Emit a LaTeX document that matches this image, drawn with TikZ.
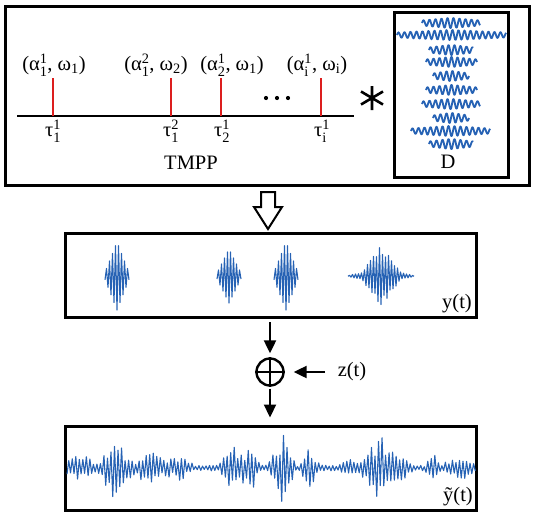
\documentclass[tikz,border=0pt]{standalone}
\usepackage{amsmath}
\usepackage{fontspec}
\setmainfont{Liberation Serif}
\usetikzlibrary{arrows.meta}
\definecolor{sigblue}{RGB}{38,98,180}
\definecolor{spkred}{RGB}{220,30,30}
\newcommand{\supsub}[2]{$^{\text{#1}}_{\text{#2}}$}
\newcommand{\subonly}[1]{$_{\text{#1}}$}
\begin{document}
\begin{tikzpicture}[x=1pt,y=-1pt,
  font=\fontsize{20.5}{24}\selectfont,
  box/.style={draw, line width=3pt, inner sep=0pt},
  sigline/.style={draw=sigblue, line width=1.1pt, line join=round},
  atomline/.style={draw=sigblue, line width=1.8pt, line join=round},
  spike/.style={draw=spkred, line width=2.2pt},
  arr/.style={line width=2.2pt, -{Triangle[length=13pt,width=12pt]}},
  lbl/.style={inner sep=0pt},
  declare function={tri(\a,\c,\w)=max(0,1-abs(\a-\c)/\w);
    sgn(\k)=1-2*mod(round(\k)+1000,2);
    E(\a)=3+12*tri(\a,80,22)+32*tri(\a,115,18)+14*tri(\a,150,25)+10*tri(\a,180,15)+24*tri(\a,232,13)+30*tri(\a,250,10)+34*tri(\a,282,14)+20*tri(\a,310,10)+8*tri(\a,350,15)+30*tri(\a,380,24)+12*tri(\a,405,8)+20*tri(\a,433,8)+12*tri(\a,460,20);}
]
\useasboundingbox (0,0) rectangle (536,517);
\pgfmathsetseed{7}

% top box
\node[box, minimum width=524pt, minimum height=179pt] (top) at (267,95.5) {};
\node[box, minimum width=114pt, minimum height=165pt] (dbox) at (451,94.5) {};

% timeline
\coordinate (tl0) at (17,116);
\coordinate (tl1) at (354,116);
\draw[line width=2.6pt] (tl0) -- (tl1);

\foreach \n/\xx in {1/53,2/171,3/221,4/321}{
  \coordinate (s\n) at (\xx,116);
  \coordinate (s\n t) at (\xx,78);
  \draw[spike] (s\n) -- (s\n t);
}

\node[lbl] (p1) at (54,65) {(α\supsub{1}{1}, ω\subonly{1})};
\node[lbl] (p2) at (156,65) {(α\supsub{2}{1}, ω\subonly{2})};
\node[lbl] (p3) at (232,65) {(α\supsub{1}{2}, ω\subonly{1})};
\node[lbl] (p4) at (317,65) {(α\supsub{1}{i}, ω\subonly{i})};

\node[lbl] (t1) at (53,131) {τ\supsub{1}{1}};
\node[lbl] (t2) at (171,131) {τ\supsub{2}{1}};
\node[lbl] (t3) at (222,131) {τ\supsub{1}{2}};
\node[lbl] (t4) at (322,131) {τ\supsub{1}{i}};

\foreach \xx in {266,277,288}{ \fill (\xx,98) circle (2.1pt); }

\node[lbl] (tmpp) at (191,163) {TMPP};
\node[lbl] (dlab) at (448,162) {D};

% asterisk
\coordinate (ast) at (372,98);
\draw[line width=2.6pt] (372,86) -- (372,110)
  (361,91.5) -- (383,104.5) (361,104.5) -- (383,91.5);

% dictionary atoms
\foreach \yy/\xa/\xb in {23/422/480, 35/397/506, 50/429/473, 62/426/477, 76/433/469, 90/426/477, 104/422/480, 118/433/469, 131/411/490, 144/429/473}{
  \draw[atomline] plot[domain=\xa:\xb, samples=140]
    (\x, {\yy - (2.6+2.6*tri(\x,(\xa+\xb)/2,(\xb-\xa)/2))*sin(60*(\x-\xa))});
}

% hollow arrow
\draw[line width=2pt, line join=miter] (261,192) -- (275,192) -- (275,207) -- (282,207)
  -- (268,229) -- (254,207) -- (261,207) -- cycle;

% middle box
\node[box, minimum width=411pt, minimum height=84pt] (mid) at (271,275) {};
\node[lbl, anchor=east] (ylab) at (472,304) {y(t)};

\draw[sigline] plot[domain=-8:8, samples=17] ({117+1.5*\x}, {276 + 34*(1-abs(\x)/9)*sgn(\x)});
\draw[sigline] plot[domain=-8:8, samples=17] ({229+1.5*\x}, {276 + 27*(1-abs(\x)/9)*sgn(\x)});
\draw[sigline] plot[domain=-8:8, samples=17] ({286+1.5*\x}, {276 + 34*(1-abs(\x)/9)*sgn(\x)});
\draw[sigline] plot[domain=-22:22, samples=45] ({381+1.5*\x}, {276 + max(9*(1-abs(\x)/23),31*(1-abs(\x)/15))*(0.7+0.3*rnd)*sgn(\x)});

% summation
\node[draw, circle, line width=2.4pt, minimum size=27pt, inner sep=0pt] (plus) at (270,372) {};
\draw[line width=2.4pt] (plus.north) -- (plus.south) (plus.west) -- (plus.east);
\coordinate (a1) at (270,322);
\draw[arr, shorten >=4pt] (a1) -- (plus.north);
\node[lbl] (zt) at (352,372) {z(t)};
\coordinate (zs) at (325,372);
\draw[arr, shorten >=9pt] (zs) -- (plus.east);

% bottom box
\node[box, minimum width=411pt, minimum height=84pt] (bot) at (271,468) {};
\draw[arr, shorten <=2pt, shorten >=7pt] (plus.south) -- (plus.south |- bot.north);
\draw[sigline] plot[domain=0:232, samples=233] ({67+1.76*\x}, {468 + E(67+1.76*\x)*sgn(\x)*(0.4+0.6*rnd)});
\node[lbl, anchor=east] (ytl) at (473,497) {ỹ(t)};
\end{tikzpicture}
\end{document}
